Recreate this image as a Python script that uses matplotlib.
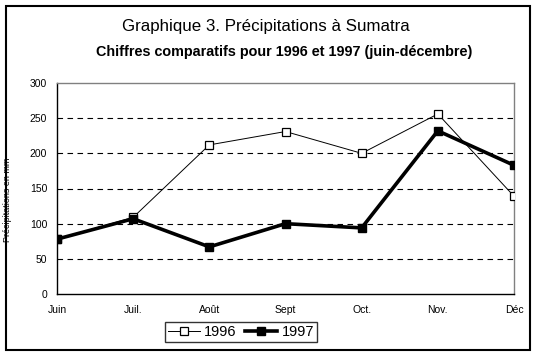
import matplotlib
matplotlib.use('Agg')
import matplotlib.pyplot as plt

plt.rcParams['font.family'] = ['Liberation Sans', 'DejaVu Sans']

mois = ['Juin', 'Juil.', 'Août', 'Sept', 'Oct.', 'Nov.', 'Déc']
p1996 = [78, 109, 212, 231, 200, 256, 139]
p1997 = [78, 107, 67, 100, 94, 232, 183]
yticks = [0, 50, 100, 150, 200, 250, 300]

fig = plt.figure(figsize=(5.36, 3.58), dpi=100)

# cadre autour du graphique
fig.patches.append(plt.Rectangle((6 / 536, 8 / 358), 524 / 536, 344 / 358,
                                 transform=fig.transFigure, fill=False,
                                 edgecolor='black', linewidth=1.5))

ax = fig.add_axes([57 / 536, 64 / 358, 457 / 536, 211 / 358])
x = range(len(mois))

ax.plot(x, p1996, color='black', linewidth=0.7, marker='s', markersize=5.5,
        markerfacecolor='white', markeredgecolor='black', markeredgewidth=0.9,
        label='1996', zorder=3)
ax.plot(x, p1997, color='black', linewidth=2.6, marker='s', markersize=5.5,
        markerfacecolor='black', markeredgecolor='black',
        label='1997', zorder=4)

ax.set_xlim(0, len(mois) - 1)
ax.set_ylim(0, 300)
ax.set_yticks(yticks)
ax.set_xticks(list(x))
ax.set_xticklabels(mois)
for v in yticks[1:-1]:
    ax.axhline(v, color='black', linewidth=0.8, linestyle=(0, (5, 4)), zorder=1)

ax.spines['left'].set_color('black')
ax.spines['bottom'].set_color('black')
ax.spines['top'].set_color('#808080')
ax.spines['right'].set_color('#808080')
for s in ax.spines.values():
    s.set_linewidth(1)
ax.tick_params(length=0, labelsize=7.5, pad=7)
ax.tick_params(axis='x', pad=8)

fig.text(8 / 536, 1 - 200 / 358, 'Précipitations en mm', rotation=90,
         fontsize=6.5, ha='center', va='center')

fig.text(266 / 536, 1 - 27 / 358, 'Graphique 3. Précipitations à Sumatra',
         fontsize=12.2, ha='center', va='center')
fig.text(284 / 536, 1 - 52 / 358,
         'Chiffres comparatifs pour 1996 et 1997 (juin-décembre)',
         fontsize=10.4, fontweight='bold', ha='center', va='center')

leg = fig.legend(loc='center', bbox_to_anchor=(241 / 536, 1 - 332 / 358),
                 ncol=2, fontsize=10.5, frameon=True, fancybox=False,
                 edgecolor='black', handlelength=2.2, handletextpad=0.3,
                 columnspacing=0.6, borderpad=0.2, borderaxespad=0)
leg.get_frame().set_linewidth(1)

fig.savefig('out.png', dpi=100)
